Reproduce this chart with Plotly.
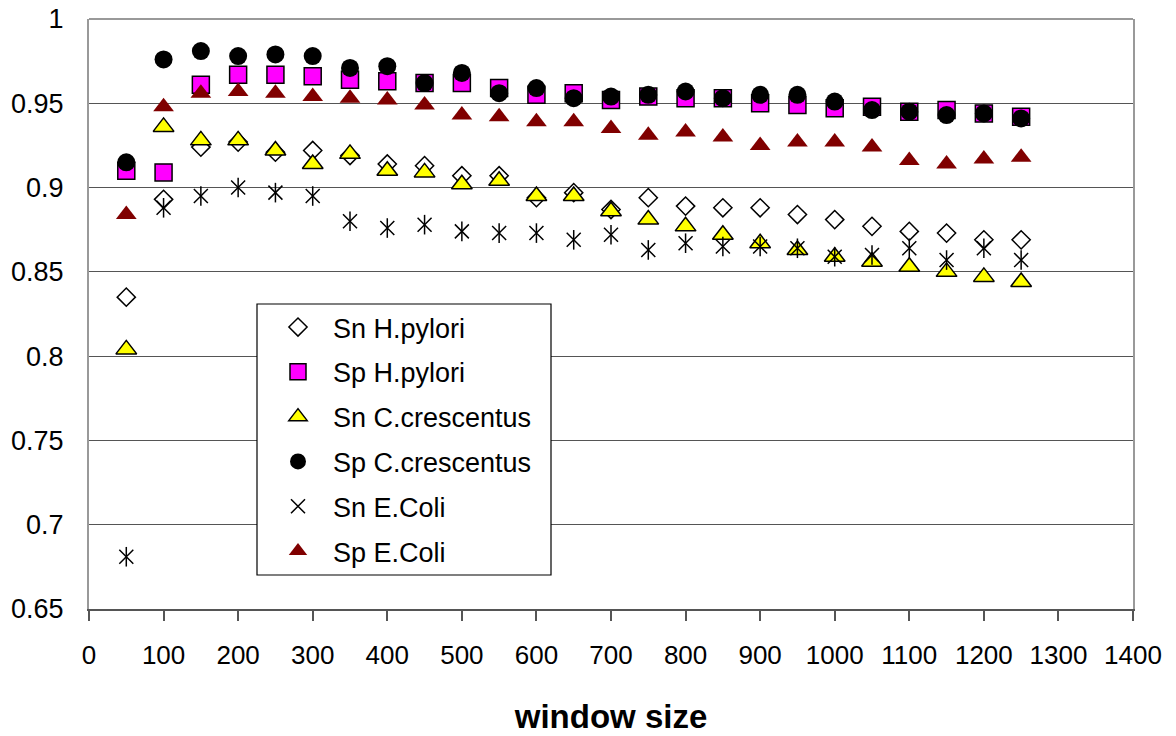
import plotly.graph_objects as go

window_size = [50, 100, 150, 200, 250, 300, 350, 400, 450, 500, 550, 600, 650,
               700, 750, 800, 850, 900, 950, 1000, 1050, 1100, 1150, 1200, 1250]

sn_hpylori = [0.835, 0.893, 0.924, 0.927, 0.921, 0.922, 0.919, 0.914, 0.913, 0.907,
              0.907, 0.894, 0.897, 0.887, 0.894, 0.889, 0.888, 0.888, 0.884, 0.881,
              0.877, 0.874, 0.873, 0.869, 0.869]
sp_hpylori = [0.910, 0.909, 0.961, 0.967, 0.967, 0.966, 0.964, 0.963, 0.962, 0.962,
              0.959, 0.955, 0.956, 0.952, 0.954, 0.953, 0.953, 0.950, 0.949, 0.947,
              0.948, 0.945, 0.946, 0.944, 0.942]
sn_ccres = [0.804, 0.936, 0.928, 0.928, 0.922, 0.914, 0.920, 0.910, 0.909, 0.902,
            0.904, 0.895, 0.895, 0.886, 0.881, 0.877, 0.872, 0.867, 0.863, 0.859,
            0.856, 0.853, 0.850, 0.847, 0.844]
sp_ccres = [0.915, 0.976, 0.981, 0.978, 0.979, 0.978, 0.971, 0.972, 0.962, 0.968,
            0.956, 0.959, 0.953, 0.954, 0.955, 0.957, 0.953, 0.955, 0.955, 0.951,
            0.946, 0.945, 0.943, 0.944, 0.941]
sn_ecoli = [0.681, 0.888, 0.895, 0.900, 0.897, 0.895, 0.880, 0.876, 0.878, 0.874,
            0.873, 0.873, 0.869, 0.872, 0.863, 0.867, 0.865, 0.865, 0.864, 0.859,
            0.860, 0.864, 0.857, 0.864, 0.857]
sp_ecoli = [0.884, 0.948, 0.956, 0.957, 0.956, 0.954, 0.953, 0.952, 0.949, 0.943,
            0.942, 0.939, 0.939, 0.935, 0.931, 0.933, 0.930, 0.925, 0.927, 0.927,
            0.924, 0.916, 0.914, 0.917, 0.918]

names = ["Sn H.pylori", "Sp H.pylori", "Sn C.crescentus", "Sp C.crescentus",
         "Sn E.Coli", "Sp E.Coli"]
x_ticks = [0, 100, 200, 300, 400, 500, 600, 700, 800, 900, 1000, 1100, 1200, 1300, 1400]
y_ticks = [0.65, 0.7, 0.75, 0.8, 0.85, 0.9, 0.95, 1.0]
y_labels = ["0.65", "0.7", "0.75", "0.8", "0.85", "0.9", "0.95", "1"]

FONT = "Liberation Sans, Arial"

fig = go.Figure()

def add(y, name, marker, showlegend=True, group=None):
    fig.add_trace(go.Scatter(
        x=window_size, y=y, mode="markers", name=name, marker=marker,
        showlegend=showlegend, legendgroup=group or name, hoverinfo="x+y+name"))

add(sn_hpylori, names[0], dict(symbol="diamond", size=14, color="white",
                               line=dict(color="black", width=1.5)))
add(sp_hpylori, names[1], dict(symbol="square", size=17, color="#FF00FF",
                               line=dict(color="black", width=1.5)))
add(sn_ccres, names[2], dict(symbol="triangle-up", size=18, color="#FFFF00",
                             line=dict(color="black", width=1.5)))
add(sp_ccres, names[3], dict(symbol="circle", size=18, color="black",
                             line=dict(color="black", width=0)))
add(sn_ecoli, names[4], dict(symbol="x-thin-open", size=14, color="black",
                             line=dict(color="black", width=1.5)))
add(sn_ecoli, names[4] + " ", dict(symbol="line-ns-open", size=14, color="black",
                                   line=dict(color="black", width=1.5)),
    showlegend=False, group=names[4])
add(sp_ecoli, names[5], dict(symbol="triangle-up", size=18, color="#800000",
                             line=dict(color="#800000", width=0)))

# page is offset by the 8px body margin; place plot area at page px 89..1133 x 19..609
OFF = 8
W, H = 1176, 736
L, T = 89 - OFF, 19 - OFF
R = W - (1133 - OFF)
B = H - (609 - OFF)
pw, ph = W - L - R, H - T - B

def px_x(p):
    return (p - OFF - L) / pw

def px_y(p):
    return (H - B - (p - OFF)) / ph

fig.update_layout(
    width=W, height=H,
    margin=dict(l=L, r=R, t=T, b=B, autoexpand=False),
    paper_bgcolor="white", plot_bgcolor="white",
    font=dict(family=FONT, color="black"),
    showlegend=True,
    legend=dict(
        x=px_x(263), y=px_y(303), xanchor="left", yanchor="top",
        bgcolor="rgba(0,0,0,0)", borderwidth=0,
        font=dict(family=FONT, size=27, color="black"),
        traceorder="grouped", tracegroupgap=6.7, itemwidth=60,
        itemsizing="trace",
    ),
    xaxis=dict(
        range=[0, 1400], tickvals=x_ticks, ticktext=[str(v) for v in x_ticks],
        showgrid=False, zeroline=False,
        showline=True, linecolor="#555555", linewidth=1.5,
        ticks="outside", ticklen=10, tickwidth=1.5, tickcolor="#555555",
        tickfont=dict(family=FONT, size=26, color="black"), ticklabelstandoff=12,
        ticklabeloverflow="allow",
        title=dict(text="<b>window size</b>", standoff=36,
                   font=dict(family=FONT, size=33, color="black")),
    ),
    yaxis=dict(
        range=[0.65, 1.0], tickvals=y_ticks, ticktext=y_labels,
        showgrid=True, gridcolor="#555555", gridwidth=1,
        zeroline=False,
        showline=True, linecolor="#999999", linewidth=2, mirror=True,
        ticks="", tickfont=dict(family=FONT, size=27, color="black"),
        ticklabelstandoff=18, ticklabeloverflow="allow",
    ),
    shapes=[
        dict(type="line", xref="paper", yref="paper", x0=0, x1=1, y0=1, y1=1,
             line=dict(color="#999999", width=2), layer="above"),
        dict(type="rect", xref="paper", yref="paper",
             x0=px_x(257), x1=px_x(551), y0=px_y(575), y1=px_y(304),
             fillcolor="white", line=dict(color="black", width=1.2), layer="above"),
    ],
)

fig.write_html("out.html")
